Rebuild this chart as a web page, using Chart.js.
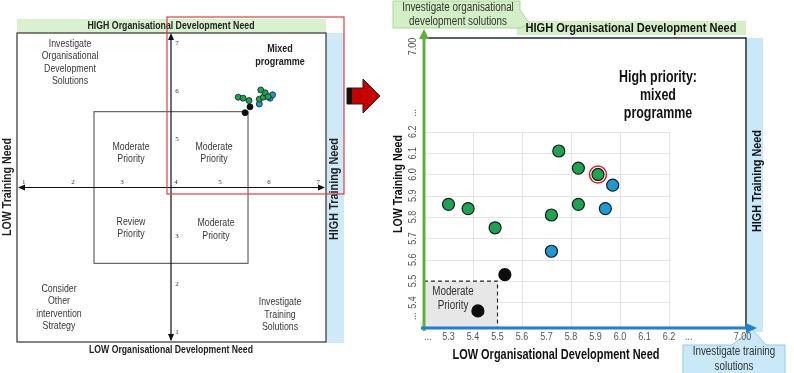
<!DOCTYPE html>
<html>
<head>
<meta charset="utf-8">
<script src="https://cdn.jsdelivr.net/npm/chart.js@4.4.1/dist/chart.umd.min.js"></script>
<style>
  body { margin: 0; background: #fff; width: 794px; height: 373px; overflow: hidden; position: relative; }
  canvas { position: absolute; top: 0; }
  #left { left: 0; }
  #right { left: 380px; }
</style>
</head>
<body>
<canvas id="left" width="380" height="373"></canvas>
<canvas id="right" width="414" height="373"></canvas>
<script>
// survey results on the zoomed chart (x = organisational development need, y = training need)
var greenX = [5.30, 5.38, 5.49, 5.72, 5.75, 5.83, 5.83, 5.91];
var greenY = [5.86, 5.84, 5.75, 5.81, 6.11, 5.86, 6.03, 6.00];
var blueX = [5.72, 5.94, 5.97];
var blueY = [5.64, 5.84, 5.95];
var blackX = [5.53, 5.42];
var blackY = [5.53, 5.36];
var highlightX = [5.91];
var highlightY = [6.00];

// same results as drawn (roughly) on the overview sketch
var ovGreenX = [5.37, 5.47, 5.59, 5.80, 5.83, 5.88, 5.92, 5.98];
var ovGreenY = [5.87, 5.85, 5.80, 5.83, 6.02, 5.87, 5.96, 5.88];
var ovBlueX = [5.80, 6.02, 6.07];
var ovBlueY = [5.73, 5.85, 5.92];
var ovBlackX = [5.61, 5.51];
var ovBlackY = [5.67, 5.55];

// left overview chart ticks
var leftTicks = [1, 2, 3, 4, 5, 6, 7];

// right zoomed chart ticks (broken axes, "..." marks the cut)
var rightXTicks = [5.215, 5.3, 5.4, 5.5, 5.6, 5.7, 5.8, 5.9, 6.0, 6.1, 6.2, 6.28, 6.5];
var rightXLabels = ["...", "5.3", "5.4", "5.5", "5.6", "5.7", "5.8", "5.9", "6.0", "6.1", "6.2", "...", "7.00"];
var rightYTicks = [5.335, 5.4, 5.5, 5.6, 5.7, 5.8, 5.9, 6.0, 6.1, 6.2, 6.29, 6.6];
var rightYLabels = ["...", "5.4", "5.5", "5.6", "5.7", "5.8", "5.9", "6.0", "6.1", "6.2", "...", "7.00"];
var gridYValues = [5.4, 5.5, 5.6, 5.7, 5.8, 5.9, 6.0, 6.1, 6.2];
var gridXValues = [5.4, 5.6, 5.8, 6.0, 6.2];

var toPoints = function(xs, ys) {
  let pts = [];
  for (let i = 0; i < xs.length; i++) {
    pts.push({x: xs[i], y: ys[i]});
  }
  return pts;
};

var txt = function(ctx, s, x, y, o) {
  ctx.save();
  ctx.translate(x, y);
  if (o.rot) ctx.rotate(o.rot);
  ctx.font = o.font;
  ctx.fillStyle = o.color || "#333";
  ctx.textAlign = o.align || "center";
  ctx.textBaseline = "middle";
  let sx = o.sx || 1;
  if (o.w) sx = Math.min(1, o.w / ctx.measureText(s).width);
  ctx.scale(sx, 1);
  ctx.fillText(s, 0, 0);
  ctx.restore();
};

var lines = function(ctx, arr, x, y0, dy, o) {
  for (let i = 0; i < arr.length; i++) {
    txt(ctx, arr[i], x, y0 + i * dy, o);
  }
};

var arrowHead = function(ctx, tipX, tipY, dir, len, half, color) {
  // dir: "up", "down", "left", "right"
  ctx.fillStyle = color;
  ctx.beginPath();
  if (dir == "up") { ctx.moveTo(tipX, tipY); ctx.lineTo(tipX - half, tipY + len); ctx.lineTo(tipX + half, tipY + len); }
  if (dir == "down") { ctx.moveTo(tipX, tipY); ctx.lineTo(tipX - half, tipY - len); ctx.lineTo(tipX + half, tipY - len); }
  if (dir == "left") { ctx.moveTo(tipX, tipY); ctx.lineTo(tipX + len, tipY - half); ctx.lineTo(tipX + len, tipY + half); }
  if (dir == "right") { ctx.moveTo(tipX, tipY); ctx.lineTo(tipX - len, tipY - half); ctx.lineTo(tipX - len, tipY + half); }
  ctx.closePath();
  ctx.fill();
};

var GREEN = "#19a64f";
var BLUE = "#1b9ad8";
var BLACK = "#0d0d0d";
var EDGE = "#1a1a1a";
var SANS = "'Liberation Sans', Arial, sans-serif";

// ---------- left overview ----------
var leftDecor = {
  id: "leftDecor",
  beforeDatasetsDraw: function(chart) {
    let ctx = chart.ctx;
    let x = chart.scales.x, y = chart.scales.y;
    let a = chart.chartArea;
    ctx.save();
    // bands
    ctx.fillStyle = "#d8f1cf";
    ctx.fillRect(a.left, 19, a.right - a.left, a.top - 19);
    ctx.fillStyle = "#cdeaf8";
    ctx.fillRect(a.right, a.top, 18, a.bottom - a.top + 1);
    // outer box
    ctx.strokeStyle = "#333";
    ctx.lineWidth = 1.2;
    ctx.strokeRect(a.left, a.top, a.right - a.left, a.bottom - a.top);
    // inner priority box
    ctx.strokeStyle = "#444";
    ctx.lineWidth = 1;
    let ix0 = x.getPixelForValue(2.43), ix1 = x.getPixelForValue(5.57);
    let iy0 = y.getPixelForValue(5.57), iy1 = y.getPixelForValue(2.43);
    ctx.strokeRect(ix0, iy0, ix1 - ix0, iy1 - iy0);
    // crossing axes
    let cx = x.getPixelForValue(4), cy = y.getPixelForValue(4);
    ctx.strokeStyle = "#111";
    ctx.lineWidth = 1.2;
    ctx.beginPath();
    ctx.moveTo(cx, a.top + 2); ctx.lineTo(cx, a.bottom - 2);
    ctx.moveTo(a.left + 2, cy); ctx.lineTo(a.right - 2, cy);
    ctx.stroke();
    arrowHead(ctx, cx, a.top, "up", 7, 3, "#111");
    arrowHead(ctx, cx, a.bottom - 1, "down", 7, 3, "#111");
    arrowHead(ctx, a.left + 1, cy, "left", 7, 3, "#111");
    arrowHead(ctx, a.right - 1, cy, "right", 7, 3, "#111");
    // tick labels
    for (let i = 0; i < leftTicks.length; i++) {
      let v = leftTicks[i];
      let px = x.getPixelForValue(v) + (v == 4 ? 5 : 0);
      txt(ctx, String(v), px, cy - 5, {font: "7px 'Liberation Serif', serif", color: "#333"});
      if (v != 4) {
        txt(ctx, String(v), cx + 6, y.getPixelForValue(v), {font: "7px 'Liberation Serif', serif", color: "#333"});
      }
    }
    // region texts
    let reg = {font: "11px " + SANS, color: "#3a3a3a", sx: 0.8};
    lines(ctx, ["Investigate", "Organisational", "Development", "Solutions"], 70, 44, 12.3, reg);
    lines(ctx, ["Mixed", "programme"], 280, 49, 13, {font: "bold 11px " + SANS, color: "#222", sx: 0.82});
    lines(ctx, ["Moderate", "Priority"], 131, 147, 12.3, reg);
    lines(ctx, ["Moderate", "Priority"], 214, 147, 12.3, reg);
    lines(ctx, ["Review", "Priority"], 131, 222, 12.3, reg);
    lines(ctx, ["Moderate", "Priority"], 216, 223, 13, reg);
    lines(ctx, ["Consider", "Other", "intervention", "Strategy"], 59, 289, 12.3, reg);
    lines(ctx, ["Investigate", "Training", "Solutions"], 280, 302, 12.5, reg);
    // axis titles
    txt(ctx, "HIGH Organisational Development Need", 171, 26, {font: "bold 10px " + SANS, color: "#222", w: 167});
    txt(ctx, "LOW Organisational Development Need", 171, 350, {font: "bold 10px " + SANS, color: "#222", w: 164});
    txt(ctx, "LOW Training Need", 8, 187, {font: "bold 12px " + SANS, color: "#222", w: 98, rot: -Math.PI / 2});
    txt(ctx, "HIGH Training Need", 335, 189, {font: "bold 12px " + SANS, color: "#222", w: 102, rot: -Math.PI / 2});
    ctx.restore();
  },
  afterDatasetsDraw: function(chart) {
    let ctx = chart.ctx;
    ctx.save();
    // zoom frame
    ctx.strokeStyle = "#e04040";
    ctx.lineWidth = 1.2;
    ctx.strokeRect(167, 17, 177, 177);
    // red arrow towards the zoomed chart
    ctx.fillStyle = "#c60000";
    ctx.strokeStyle = "#222";
    ctx.lineWidth = 1;
    ctx.beginPath();
    ctx.moveTo(347, 88); ctx.lineTo(363, 88); ctx.lineTo(363, 79); ctx.lineTo(380, 96);
    ctx.lineTo(363, 113); ctx.lineTo(363, 104); ctx.lineTo(347, 104); ctx.closePath();
    ctx.fill(); ctx.stroke();
    ctx.fillStyle = "#111";
    ctx.fillRect(347, 88, 5, 16);
    ctx.restore();
  }
};

new Chart(document.getElementById("left"), {
  type: "scatter",
  data: {
    datasets: [
      {data: toPoints(ovGreenX, ovGreenY), backgroundColor: GREEN, borderColor: EDGE, borderWidth: 0.8, pointRadius: 3},
      {data: toPoints(ovBlueX, ovBlueY), backgroundColor: BLUE, borderColor: EDGE, borderWidth: 0.8, pointRadius: 3},
      {data: toPoints(ovBlackX, ovBlackY), backgroundColor: BLACK, borderColor: BLACK, borderWidth: 0.8, pointRadius: 3}
    ]
  },
  options: {
    responsive: false,
    animation: false,
    events: [],
    layout: {padding: {left: 17, right: 54, top: 33, bottom: 31}},
    plugins: {legend: {display: false}, tooltip: {enabled: false}},
    scales: {
      x: {type: "linear", min: 0.86, max: 7.16, display: false},
      y: {type: "linear", min: 0.8, max: 7.2, display: false}
    }
  },
  plugins: [leftDecor]
});

// ---------- right zoomed chart ----------
var rightDecor = {
  id: "rightDecor",
  beforeDatasetsDraw: function(chart) {
    let ctx = chart.ctx;
    let x = chart.scales.x, y = chart.scales.y;
    let a = chart.chartArea;
    ctx.save();
    // blue band + bottom callout
    ctx.fillStyle = "#c9e8f8";
    ctx.fillRect(367, a.top, 16, a.bottom - a.top + 4);
    ctx.strokeStyle = "#8fcbea";
    ctx.lineWidth = 1;
    ctx.beginPath();
    ctx.moveTo(303, 345); ctx.lineTo(352, 345); ctx.lineTo(372, 329); ctx.lineTo(386, 345);
    ctx.lineTo(405, 345); ctx.lineTo(405, 376); ctx.lineTo(303, 376); ctx.closePath();
    ctx.fill(); ctx.stroke();
    // green band + top callout
    ctx.fillStyle = "#d3efc6";
    ctx.fillRect(137, 21, a.right - 137, 14);
    ctx.strokeStyle = "#a9d995";
    ctx.beginPath();
    ctx.moveTo(13, 1); ctx.lineTo(140, 1); ctx.lineTo(140, 10); ctx.lineTo(150, 24);
    ctx.lineTo(140, 28); ctx.lineTo(13, 28); ctx.closePath();
    ctx.fill(); ctx.stroke();
    // light grid
    let gx0 = x.getPixelForValue(5.2), gx1 = x.getPixelForValue(6.2);
    let gy0 = y.getPixelForValue(6.2), gy1 = a.bottom;
    ctx.strokeStyle = "#e4e4e4";
    ctx.lineWidth = 1;
    ctx.beginPath();
    for (let i = 0; i < gridYValues.length; i++) {
      let py = Math.round(y.getPixelForValue(gridYValues[i])) + 0.5;
      ctx.moveTo(gx0, py); ctx.lineTo(gx1, py);
    }
    for (let i = 0; i < gridXValues.length; i++) {
      let px = Math.round(x.getPixelForValue(gridXValues[i])) + 0.5;
      ctx.moveTo(px, gy0); ctx.lineTo(px, gy1);
    }
    ctx.stroke();
    // moderate priority box
    let mx1 = x.getPixelForValue(5.5), my0 = y.getPixelForValue(5.5);
    ctx.fillStyle = "#e7e7e7";
    ctx.fillRect(gx0, my0, mx1 - gx0, a.bottom - my0);
    ctx.strokeStyle = "#1d2b3a";
    ctx.lineWidth = 1.2;
    ctx.setLineDash([4, 3]);
    ctx.beginPath();
    ctx.moveTo(gx0, my0); ctx.lineTo(mx1, my0); ctx.lineTo(mx1, a.bottom);
    ctx.stroke();
    ctx.setLineDash([]);
    lines(ctx, ["Moderate", "Priority"], 73, 292, 13.5, {font: "12px " + SANS, color: "#333", sx: 0.82});
    // frame
    ctx.strokeStyle = "#1d2b3a";
    ctx.lineWidth = 1.5;
    ctx.beginPath();
    ctx.moveTo(a.left, a.top); ctx.lineTo(a.right, a.top); ctx.lineTo(a.right, a.bottom);
    ctx.stroke();
    // axes
    ctx.lineWidth = 3;
    ctx.strokeStyle = "#5cb33a";
    ctx.beginPath();
    ctx.moveTo(a.left, a.bottom + 3); ctx.lineTo(a.left, 38);
    ctx.stroke();
    arrowHead(ctx, a.left, 29, "up", 10, 5, "#5cb33a");
    ctx.strokeStyle = "#1f7fd0";
    ctx.beginPath();
    ctx.moveTo(a.left - 3, a.bottom); ctx.lineTo(367, a.bottom);
    ctx.stroke();
    arrowHead(ctx, 377, a.bottom, "right", 11, 5, "#1f7fd0");
    // tick labels
    for (let i = 0; i < rightXTicks.length; i++) {
      txt(ctx, rightXLabels[i], x.getPixelForValue(rightXTicks[i]), 337, {font: "10px " + SANS, color: "#555", sx: 0.9});
    }
    for (let i = 0; i < rightYTicks.length; i++) {
      txt(ctx, rightYLabels[i], 33, y.getPixelForValue(rightYTicks[i]), {font: "10px " + SANS, color: "#555", sx: 0.9, rot: -Math.PI / 2});
    }
    // texts
    let call = {font: "12px " + SANS, color: "#333", sx: 0.82};
    lines(ctx, ["Investigate organisational", "development solutions"], 78, 8, 13.5, call);
    lines(ctx, ["Investigate training", "solutions"], 354, 352, 15, call);
    txt(ctx, "HIGH Organisational Development Need", 251, 28, {font: "bold 13px " + SANS, color: "#111", w: 211});
    lines(ctx, ["High priority:", "mixed", "programme"], 278, 77, 18, {font: "bold 17px " + SANS, color: "#111", sx: 0.73});
    txt(ctx, "LOW Training Need", 18, 184, {font: "bold 13px " + SANS, color: "#111", w: 98, rot: -Math.PI / 2});
    txt(ctx, "HIGH Training Need", 377, 181, {font: "bold 13px " + SANS, color: "#111", w: 102, rot: -Math.PI / 2});
    txt(ctx, "LOW Organisational Development Need", 176, 355, {font: "bold 14px " + SANS, color: "#111", w: 207});
    ctx.restore();
  },
  afterDatasetsDraw: function(chart) {
    let ctx = chart.ctx;
    let x = chart.scales.x, y = chart.scales.y;
    ctx.save();
    ctx.strokeStyle = "#e02020";
    ctx.lineWidth = 1.5;
    for (let i = 0; i < highlightX.length; i++) {
      ctx.beginPath();
      ctx.arc(x.getPixelForValue(highlightX[i]), y.getPixelForValue(highlightY[i]), 8.5, 0, Math.PI * 2);
      ctx.stroke();
    }
    ctx.restore();
  }
};

new Chart(document.getElementById("right"), {
  type: "scatter",
  data: {
    datasets: [
      {data: toPoints(greenX, greenY), backgroundColor: GREEN, borderColor: EDGE, borderWidth: 1.2, pointRadius: 6},
      {data: toPoints(blueX, blueY), backgroundColor: BLUE, borderColor: EDGE, borderWidth: 1.2, pointRadius: 6},
      {data: toPoints(blackX, blackY), backgroundColor: BLACK, borderColor: BLACK, borderWidth: 1.2, pointRadius: 6}
    ]
  },
  options: {
    responsive: false,
    animation: false,
    events: [],
    layout: {padding: {left: 44, right: 48, top: 38, bottom: 45}},
    plugins: {legend: {display: false}, tooltip: {enabled: false}},
    scales: {
      x: {type: "linear", min: 5.2, max: 6.514, display: false},
      y: {type: "linear", min: 5.28, max: 6.64, display: false}
    }
  },
  plugins: [rightDecor]
});
</script>
</body>
</html>
